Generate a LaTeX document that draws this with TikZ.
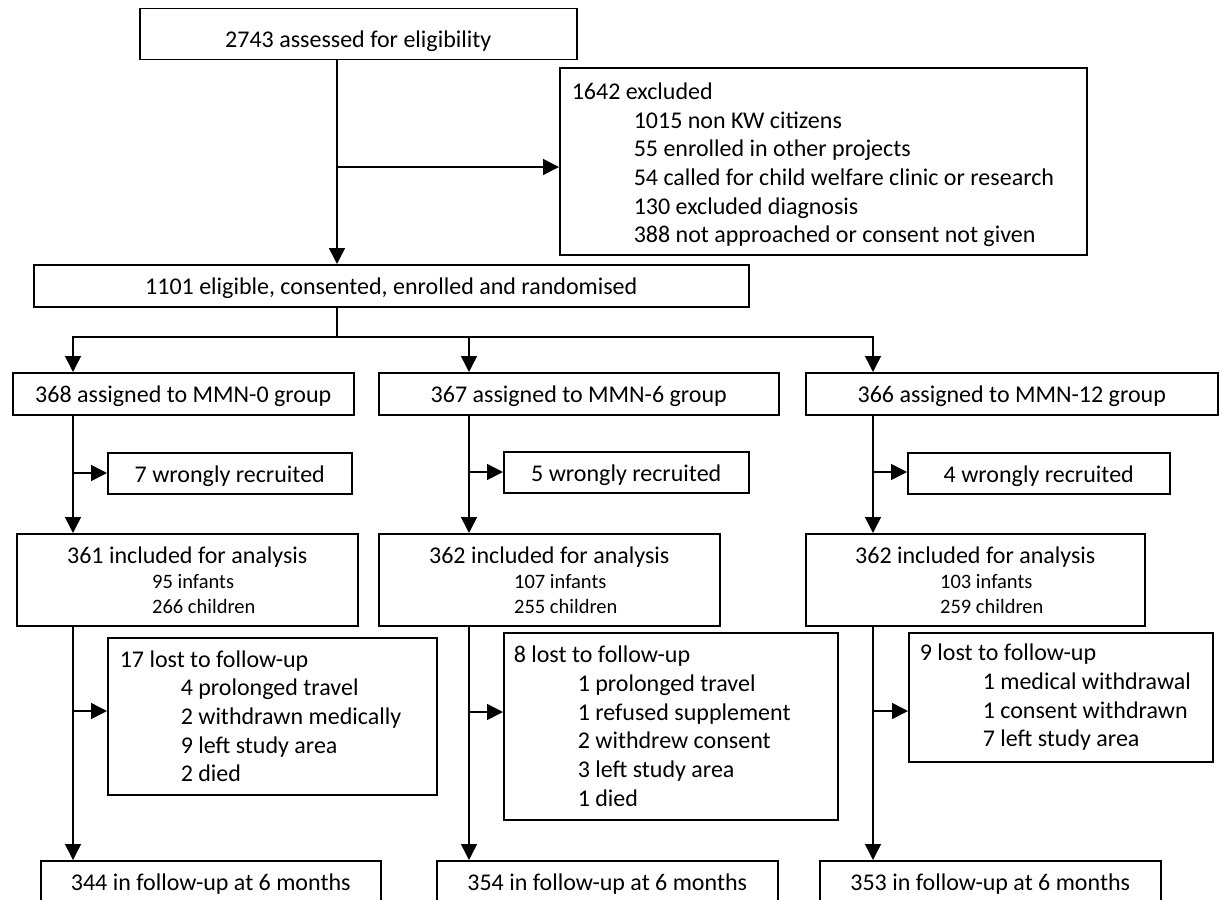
\documentclass[tikz,border=0pt]{standalone}
\usepackage{fontspec}
\setmainfont{Carlito}
\usetikzlibrary{arrows.meta}
\newcommand\smtxt{\fontsize{20.5}{25}\selectfont}
\begin{document}
\begin{tikzpicture}[x=1pt,y=-1pt,
  box/.style={draw, line width=1.5pt, rectangle, inner sep=0pt, anchor=north west},
  one/.style={box, font=\fontsize{24}{28.7}\selectfont, text height=18pt, text depth=0pt},
  listbox/.style={box, font=\fontsize{24}{28.7}\selectfont, align=flush left},
  incbox/.style={box, font=\fontsize{24}{25}\selectfont, align=left, minimum height=92pt},
  arr/.style={line width=1.5pt, -{Triangle[length=16pt,width=16pt]}},
  ln/.style={line width=1.5pt}]
\clip (0,0) rectangle (1225,899);
\fill[white] (0,0) rectangle (1225,899);
% column coordinates
\coordinate (x0) at (337,0);
\coordinate (x1) at (73,0);
\coordinate (x2) at (469,0);
\coordinate (x3) at (873,0);
\coordinate (b0) at (337,167);
\coordinate (sp) at (337,337);
\coordinate (s1) at (73,473);
\coordinate (s2) at (469,472);
\coordinate (s3) at (873,472);
\coordinate (t1) at (73,711);
\coordinate (t2) at (469,712);
\coordinate (t3) at (873,711);

% top
\node[one, text height=26pt, minimum width=437pt, minimum height=51pt] (top) at (139,8) {2743 assessed for eligibility};
\node[listbox, text width=503pt, inner xsep=12pt, minimum height=187pt] (exc) at (559,67)
 {\rule{0pt}{24pt}1642 excluded\\
  \hspace*{62pt}1015 non KW citizens\\
  \hspace*{62pt}55 enrolled in other projects\\
  \hspace*{62pt}54 called for child welfare clinic or research\\
  \hspace*{62pt}130 excluded diagnosis\\
  \hspace*{62pt}388 not approached or consent not given};
\node[one, minimum width=715pt, minimum height=42pt] (enr) at (33,264) {1101 eligible, consented, enrolled and randomised};

% groups
\node[one, minimum width=341pt, minimum height=42pt] (g1) at (12,372) {368 assigned to MMN-0 group};
\node[one, minimum width=400pt, minimum height=42pt] (g2) at (378,372) {367 assigned to MMN-6 group};
\node[one, minimum width=412pt, minimum height=42pt] (g3) at (805,372) {366 assigned to MMN-12 group};

% wrongly recruited
\node[one, minimum width=244pt, minimum height=41pt] (w1) at (107,452) {7 wrongly recruited};
\node[one, minimum width=245pt, minimum height=41pt] (w2) at (503,451) {5 wrongly recruited};
\node[one, minimum width=262pt, minimum height=41pt] (w3) at (907,452) {4 wrongly recruited};

% included
\node[incbox, minimum width=341pt] (i1) at (16,533)
 {361 included for analysis\\\hspace*{85pt}{\smtxt 95 infants}\\\hspace*{85pt}{\smtxt 266 children}};
\node[incbox, minimum width=341pt] (i2) at (378,533)
 {362 included for analysis\\\hspace*{85pt}{\smtxt 107 infants}\\\hspace*{85pt}{\smtxt 255 children}};
\node[incbox, minimum width=339pt] (i3) at (805,533)
 {362 included for analysis\\\hspace*{85pt}{\smtxt 103 infants}\\\hspace*{85pt}{\smtxt 259 children}};

% lost
\node[listbox, text width=305pt, inner xsep=12pt, minimum height=157pt] (l1) at (107,637)
 {17 lost to follow-up\\
  \hspace*{61pt}4 prolonged travel\\
  \hspace*{61pt}2 withdrawn medically\\
  \hspace*{61pt}9 left study area\\
  \hspace*{61pt}2 died};
\node[listbox, text width=314pt, inner xsep=10pt, minimum height=187pt] (l2) at (503,632)
 {8 lost to follow-up\\
  \hspace*{64pt}1 prolonged travel\\
  \hspace*{64pt}1 refused supplement\\
  \hspace*{64pt}2 withdrew consent\\
  \hspace*{64pt}3 left study area\\
  \hspace*{64pt}1 died};
\node[listbox, text width=282pt, inner xsep=11pt, minimum height=129pt] (l3) at (908,632)
 {9 lost to follow-up\\
  \hspace*{63pt}1 medical withdrawal\\
  \hspace*{63pt}1 consent withdrawn\\
  \hspace*{63pt}7 left study area};

% final
\node[one, minimum width=340pt, minimum height=42pt] (f1) at (40,860) {344 in follow-up at 6 months};
\node[one, minimum width=341pt, minimum height=42pt] (f2) at (436,860) {354 in follow-up at 6 months};
\node[one, minimum width=341pt, minimum height=42pt] (f3) at (819,860) {353 in follow-up at 6 months};

% connectors
\draw[arr] (top.south -| x0) -- (enr.north -| x0);
\draw[arr] (b0) -- (b0 -| exc.west);
\draw[ln] (enr.south -| x0) -- (sp);
\draw[arr] (sp) -| (g1.north -| x1);
\draw[arr] (sp) -| (g3.north -| x3);
\draw[arr] (sp -| x2) -- (g2.north -| x2);

\draw[arr] (g1.south -| x1) -- (i1.north -| x1);
\draw[arr] (g2.south -| x2) -- (i2.north -| x2);
\draw[arr] (g3.south -| x3) -- (i3.north -| x3);
\draw[arr] (s1) -- (s1 -| w1.west);
\draw[arr] (s2) -- (s2 -| w2.west);
\draw[arr] (s3) -- (s3 -| w3.west);

\draw[arr] (i1.south -| x1) -- (f1.north -| x1);
\draw[arr] (i2.south -| x2) -- (f2.north -| x2);
\draw[arr] (i3.south -| x3) -- (f3.north -| x3);
\draw[arr] (t1) -- (t1 -| l1.west);
\draw[arr] (t2) -- (t2 -| l2.west);
\draw[arr] (t3) -- (t3 -| l3.west);
\end{tikzpicture}
\end{document}
